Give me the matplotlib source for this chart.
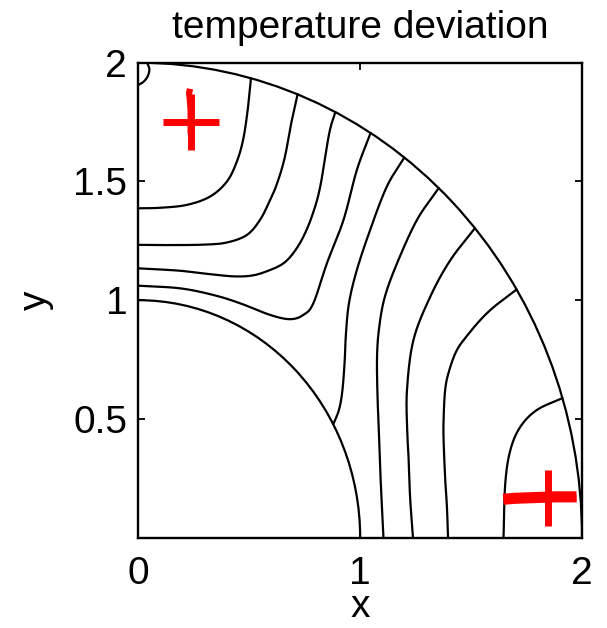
import numpy as np
import matplotlib
matplotlib.use("Agg")
import matplotlib.pyplot as plt
from matplotlib.patches import Arc

plt.rcParams['font.family'] = ['Liberation Sans', 'DejaVu Sans']

# Domain: quarter annulus between two radii
R_INNER = 1.0
R_OUTER = 2.0

# Isotherms, each ordered from one boundary to the other
iso_corner_x = [0.040, 0.050, 0.042, 0.024, 0.0]
iso_corner_y = [1.9996, 1.972, 1.942, 1.920, 1.906]

iso_a_x = [0.508, 0.496, 0.474, 0.444, 0.399, 0.323, 0.218, 0.098, 0.0]
iso_a_y = [1.935, 1.822, 1.682, 1.583, 1.499, 1.436, 1.401, 1.389, 1.387]

iso_b_x = [0.718, 0.692, 0.660, 0.625, 0.594, 0.550, 0.490, 0.400, 0.300, 0.150, 0.0]
iso_b_y = [1.867, 1.758, 1.600, 1.490, 1.422, 1.340, 1.275, 1.243, 1.234, 1.232, 1.233]

iso_c_x = [0.888, 0.860, 0.820, 0.785, 0.744, 0.700, 0.654, 0.594, 0.520, 0.440, 0.338, 0.188, 0.0]
iso_c_y = [1.792, 1.700, 1.478, 1.360, 1.267, 1.200, 1.155, 1.127, 1.105, 1.100, 1.108, 1.124, 1.134]

iso_d_x = [0.0, 0.188, 0.338, 0.459, 0.594, 0.684, 0.744, 0.789, 0.850, 0.925, 0.985, 1.047]
iso_d_y = [1.061, 1.050, 1.022, 0.987, 0.938, 0.920, 0.938, 0.987, 1.155, 1.338, 1.548, 1.704]

iso_e_x = [1.199, 1.120, 1.045, 0.985, 0.950, 0.936, 0.930, 0.920, 0.905, 0.879]
iso_e_y = [1.601, 1.478, 1.296, 1.127, 0.990, 0.860, 0.740, 0.620, 0.540, 0.478]

iso_f_x = [1.354, 1.256, 1.166, 1.110, 1.085, 1.076, 1.078, 1.083, 1.092, 1.105]
iso_f_y = [1.472, 1.338, 1.155, 1.010, 0.880, 0.760, 0.600, 0.482, 0.250, 0.0]

iso_g_x = [1.517, 1.406, 1.316, 1.240, 1.211, 1.212, 1.218, 1.225, 1.238]
iso_g_y = [1.303, 1.168, 1.015, 0.832, 0.622, 0.450, 0.341, 0.170, 0.0]

iso_h_x = [1.705, 1.620, 1.556, 1.490, 1.436, 1.400, 1.383, 1.376, 1.376, 1.383, 1.391, 1.396]
iso_h_y = [1.045, 0.985, 0.931, 0.860, 0.790, 0.700, 0.622, 0.500, 0.411, 0.250, 0.131, 0.0]

iso_i_x = [1.912, 1.797, 1.722, 1.677, 1.654, 1.646]
iso_i_y = [0.588, 0.538, 0.467, 0.369, 0.229, 0.0]

# Heat source positions and their recent paths
source_x = [0.236, 1.845]
source_y = [1.749, 0.166]
path_1_x = [0.236, 0.236, 0.236, 0.232, 0.229, 0.233]
path_1_y = [1.700, 1.749, 1.800, 1.850, 1.870, 1.890]
path_2_x = [1.645, 1.700, 1.760, 1.820, 1.880, 1.940, 1.975]
path_2_y = [0.162, 0.166, 0.168, 0.170, 0.172, 0.172, 0.172]

x_ticks = [0, 1, 2]
y_ticks = [0.5, 1, 1.5, 2]
x_tick_labels = ['0', '1', '2']
y_tick_labels = ['0.5', '1', '1.5', '2']


def catmull_rom(xs, ys, n=24):
    p = np.column_stack([xs, ys]).astype(float)
    p = np.vstack([2 * p[0] - p[1], p, 2 * p[-1] - p[-2]])
    out = []
    t = np.linspace(0, 1, n, endpoint=False)[:, None]
    for i in range(1, len(p) - 2):
        p0, p1, p2, p3 = p[i - 1], p[i], p[i + 1], p[i + 2]
        seg = 0.5 * ((2 * p1) + (-p0 + p2) * t +
                     (2 * p0 - 5 * p1 + 4 * p2 - p3) * t ** 2 +
                     (-p0 + 3 * p1 - 3 * p2 + p3) * t ** 3)
        out.append(seg)
    out.append(p[-2][None, :])
    out = np.vstack(out)
    return out[:, 0], out[:, 1]


fig = plt.figure(figsize=(6.07, 6.28), dpi=100)
ax = fig.add_axes([0.2278, 0.1438, 0.7311, 0.7564])

line_kw = dict(color='black', lw=1.6, solid_capstyle='round')

isotherms = [
    (iso_corner_x, iso_corner_y), (iso_a_x, iso_a_y), (iso_b_x, iso_b_y),
    (iso_c_x, iso_c_y), (iso_d_x, iso_d_y), (iso_e_x, iso_e_y),
    (iso_f_x, iso_f_y), (iso_g_x, iso_g_y), (iso_h_x, iso_h_y),
    (iso_i_x, iso_i_y),
]
for xs, ys in isotherms:
    sx, sy = catmull_rom(xs, ys)
    ax.plot(sx, sy, **line_kw)

for r in (R_INNER, R_OUTER):
    ax.add_patch(Arc((0, 0), 2 * r, 2 * r, theta1=0, theta2=90,
                     color='black', lw=1.6))

red = '#ff0000'
ax.plot(path_1_x, path_1_y, color=red, lw=4.5, solid_capstyle='butt')
ax.plot(path_2_x, path_2_y, color=red, lw=8, solid_capstyle='butt')
ax.plot(source_x, source_y, linestyle='none', marker='+', ms=41,
        mew=5, color=red)

ax.set_xlim(0, 2)
ax.set_ylim(0, 2)
ax.set_xticks(x_ticks)
ax.set_xticklabels(x_tick_labels)
ax.set_yticks(y_ticks)
ax.set_yticklabels(y_tick_labels)
ax.tick_params(direction='in', length=5, width=1.3, top=True, right=True,
               labelsize=28)
ax.tick_params(axis='x', pad=13)
ax.tick_params(axis='y', pad=8)
for s in ax.spines.values():
    s.set_linewidth(1.7)

ax.set_xlabel('x', fontsize=28, labelpad=-2)
ax.set_ylabel('y', fontsize=28, labelpad=14)
ax.set_title('temperature deviation', fontsize=28, pad=18)

fig.savefig('out.png', dpi=100)
